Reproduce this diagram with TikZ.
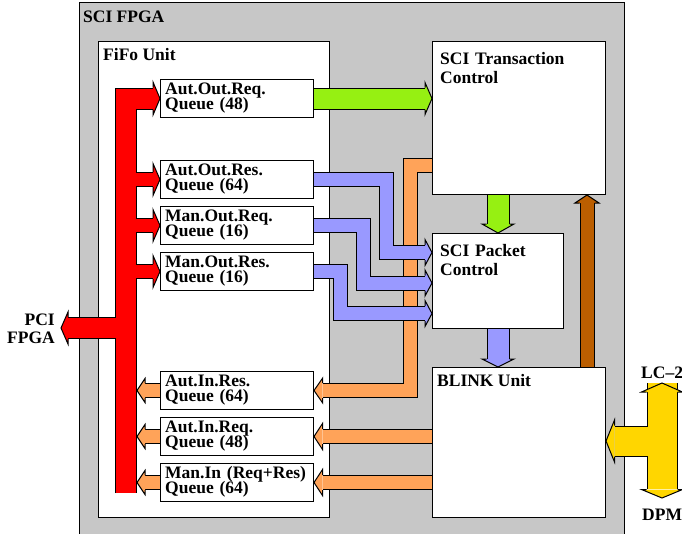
\documentclass[tikz,border=0pt]{standalone}
\usepackage{fontspec}
\setmainfont{Liberation Serif}
\usetikzlibrary{calc,positioning}
\definecolor{sciGray}{RGB}{199,199,199}
\definecolor{pipeGreen}{RGB}{150,240,18}
\definecolor{pipeBlue}{RGB}{153,153,255}
\definecolor{pipeOrange}{RGB}{255,163,89}
\definecolor{pipeBrown}{RGB}{187,94,0}
\definecolor{pipeYellow}{RGB}{255,214,0}
\begin{document}
\begin{tikzpicture}[x=1pt,y=-1pt,
	box/.style={draw=black,fill=white,line width=1pt,inner sep=0pt,anchor=north west},
	txt/.style={font={\fontsize{17.5}{15}\selectfont\bfseries\lineskiplimit=-100pt\relax},inner sep=0pt,anchor=base west},
	twoline/.style={txt,text width=150pt,align=left},
	bigline/.style={twoline,font={\fontsize{17.5}{19}\selectfont\bfseries\lineskiplimit=-100pt\relax}},
	pipe/.style 2 args={draw=#1,line width=#2,preaction={draw=black,line width=#2+2}},
	pics/tip/.style n args={4}{code={
		\fill[#1] (0,0) -- (-#4,#3) -- (-#4,-#3) -- cycle;
		\draw[line width=1pt] (-#4,#2) -- (-#4,#3) -- (0,0) -- (-#4,-#3) -- (-#4,-#2);}}]
	\useasboundingbox (0,0) rectangle (682,533);
	% boxes
	\node[box,fill=sciGray,minimum width=545pt,minimum height=545pt] (sci) at (79,2) {};
	\node[txt] (sci-t) at ($(sci.north west)+(4,20.5)$) {SCI FPGA};
	\node[box,minimum width=231pt,minimum height=476pt] (fifo) at (98,41) {};
	\node[txt] (fifo-t) at ($(fifo.north west)+(5,19)$) {FiFo Unit};
	\foreach \n/\y/\a/\b in {aoreq/79/Aut.Out.Req./Queue (48),aores/160/Aut.Out.Res./Queue (64),moreq/206/Man.Out.Req./Queue (16),mores/252/Man.Out.Res./Queue (16),aires/371/Aut.In.Res./Queue (64),aireq/417/Aut.In.Req./Queue (48),minq/463/Man.In (Req+Res)/Queue (64)} {
		\node[box,minimum width=153pt,minimum height=38pt] (\n) at (160,\y) {};
		\node[twoline] (\n-t) at ($(\n.north west)+(5,15)$) {\a\\\b};
	}
	\node[box,minimum width=173pt,minimum height=153pt] (trans) at (432,41) {};
	\node[bigline] (trans-t) at ($(trans.north west)+(8,23)$) {SCI Transaction\\Control};
	\node[box,minimum width=131pt,minimum height=95pt] (packet) at (432,233) {};
	\node[bigline] (packet-t) at ($(packet.north west)+(8,23)$) {SCI Packet\\Control};
	\node[box,minimum width=173pt,minimum height=150pt] (blink) at (432,367) {};
	\node[txt] (blink-t) at ($(blink.north west)+(5,19)$) {BLINK Unit};
	\node[txt,anchor=base east,text width=60pt,align=right,font={\fontsize{17.5}{18}\selectfont\bfseries\lineskiplimit=-100pt\relax}] (pci) at (55,325) {PCI\\FPGA};
	\node[txt] (lc) at (641,378.5) {LC–2};
	\node[txt] (dpm) at (642,520) {DPM};
	% orange: into the queues
	\draw[pipe={pipeOrange}{13},shorten >=8.7pt] ($(trans.south west)+(0,-30)$) -| ($(aires.east)+(96,0)$) -- (aires.east);
	\pic[rotate=180] at (aires.east) {tip={pipeOrange}{7.5}{12.5}{8.7}};
	\foreach \n in {aireq,minq} {
		\draw[pipe={pipeOrange}{13},shorten >=8.7pt] (blink.west |- \n.east) -- (\n.east);
		\pic[rotate=180] at (\n.east) {tip={pipeOrange}{7.5}{13.3}{8.7}};
	}
	% red bus to PCI
	\coordinate (trunk) at (125.5,493);
	\coordinate (pcitip) at (61,328);
	\draw[draw=red,line width=20pt,preaction={draw=black,line width=22pt,shorten <=-1pt}] (trunk) |- ($(aoreq.west)+(-7,0)$) ($(trunk |- pcitip)+(-10,0)$) -- ($(pcitip)+(7,0)$);
	\draw[pipe={red}{13}] \foreach \n in {aores,moreq,mores} {($(trunk |- \n.west)+(10,0)$) -- ($(\n.west)+(-7,0)$)};
	\pic at (aoreq.west) {tip={red}{11}{16.5}{7}};
	\foreach \n in {aores,moreq,mores} \pic at (\n.west) {tip={red}{7.5}{16}{7}};
	\pic[rotate=180] at (pcitip) {tip={red}{11}{16}{7}};
	\foreach \n in {aires,aireq,minq} {
		\draw[pipe={pipeOrange}{13},shorten >=8pt] (\n.west) -- ($(trunk |- \n.west)+(11.5,0)$);
		\pic[rotate=180] at ($(trunk |- \n.west)+(11.5,0)$) {tip={pipeOrange}{7.5}{12}{8}};
	}
	% blue: out queues to packet control
	\foreach \n/\xo/\yo in {aores/46/-28.5,moreq/69/2,mores/92/32.5} {
		\draw[pipe={pipeBlue}{13},shorten >=7pt] (\n.east) -| ($(packet.west)+(-\xo,\yo)$) -- ($(packet.west)+(0,\yo)$);
		\pic at ($(packet.west)+(0,\yo)$) {tip={pipeBlue}{7.5}{13}{7}};
	}
	\draw[pipe={pipeGreen}{20},shorten >=7pt] (aoreq.east) -- (trans.west |- aoreq.east);
	\pic at (trans.west |- aoreq.east) {tip={pipeGreen}{11}{16}{7}};
	\draw[pipe={pipeGreen}{21},shorten >=9pt] (packet.north |- trans.south) -- (packet.north);
	\pic[rotate=-90] at (packet.north) {tip={pipeGreen}{11.5}{16}{9}};
	\draw[pipe={pipeBlue}{21},shorten >=8pt] (packet.south) -- (packet.south |- blink.north);
	\pic[rotate=-90] at (packet.south |- blink.north) {tip={pipeBlue}{11.5}{16}{8}};
	\draw[pipe={pipeBrown}{13},shorten >=8pt] ($(blink.north east)+(-19,0)$) -- ($(trans.south east)+(-19,0)$);
	\pic[rotate=90] at ($(trans.south east)+(-19,0)$) {tip={pipeBrown}{7.5}{12}{8}};
	% yellow: LC-2 / DPM
	\coordinate (lcTop) at (662,383);
	\coordinate (lcBot) at (662,498);
	\coordinate (lcArm) at (662,441);
	\draw[pipe={pipeYellow}{29},shorten <=9pt,shorten >=8.5pt] (lcTop) -- ($(lcBot)+(0,-9)$) (lcArm) -- (blink.east |- lcArm);
	\pic[rotate=90] at (lcTop) {tip={pipeYellow}{15.5}{20.5}{9}};
	\pic[rotate=-90] at (lcBot) {tip={pipeYellow}{15.5}{20.5}{8.5}};
	\pic[rotate=180] at (blink.east |- lcArm) {tip={pipeYellow}{15.5}{21}{8.5}};
\end{tikzpicture}
\end{document}
